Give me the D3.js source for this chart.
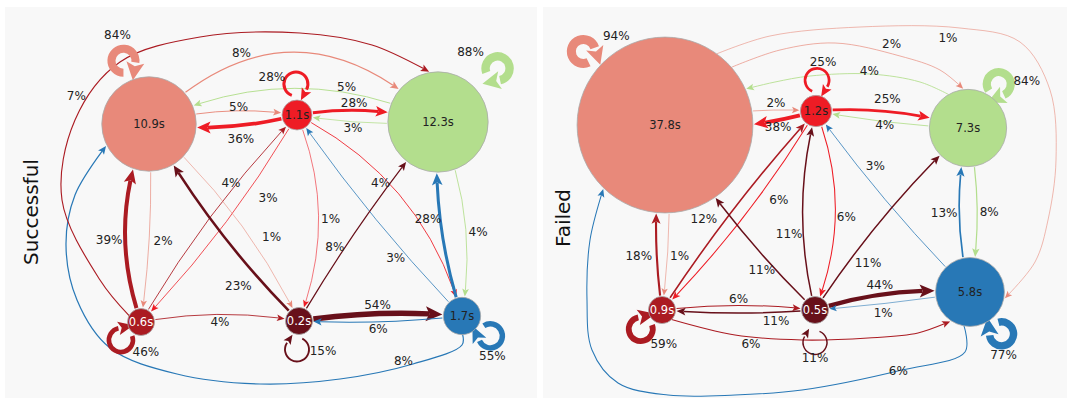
<!DOCTYPE html>
<html><head><meta charset="utf-8">
<script src="https://cdn.jsdelivr.net/npm/d3@7"></script>
<style>
body{margin:0;background:#fff}
svg{display:block}
text{font-family:"DejaVu Sans",Verdana,sans-serif}
</style>
</head><body>
<svg id="chart" width="1067" height="401"></svg>
<script>
// ---------------- data ----------------
const panelTitles = ["Successful", "Failed"];
const stateColors = ["#e8897a", "#ee1c25", "#b3de8d", "#ab1b22", "#68101a", "#2878b6"];
const stateTextColors = ["#222", "#222", "#222", "#fff", "#fff", "#222"];
const successTimes = [10.9, 1.1, 12.3, 0.6, 0.2, 1.7];
const failedTimes = [37.8, 1.2, 7.3, 0.9, 0.5, 5.8];
const successSelf = [84, 28, 88, 46, 15, 55];
const failedSelf = [94, 25, 84, 59, 11, 77];
// [from, to, percent]
const successEdges = [
  [0,1,5],[1,0,36],[1,2,28],[2,1,3],[0,2,8],[2,0,5],[0,3,2],[3,0,39],[3,1,4],[1,3,3],
  [0,4,1],[1,4,1],[1,5,4],[2,5,4],[5,2,28],[5,1,3],[4,2,8],[4,0,23],[4,5,54],[5,4,6],
  [3,4,4],[5,0,8],[3,2,7]
];
const failedEdges = [
  [0,1,2],[1,0,38],[1,2,25],[2,1,4],[0,2,2],[2,0,4],[0,5,1],[2,5,8],[5,2,13],[5,1,3],
  [3,0,18],[0,3,1],[3,1,12],[1,3,6],[1,4,6],[4,1,11],[4,0,11],[4,2,11],[3,4,6],[4,3,11],
  [4,5,44],[5,4,1],[3,5,6],[5,0,6]
];

// ---------------- layout (positions / routing, panel-local units) ----------------
const layouts = [
  {
    x0: 5, w: 532, titleX: 38, titleY: 212,
    pos: [[144,117],[292,108],[433,115],[136,315],[294,314],[457,309]],
    loops: [
      {a:-112, e:21, lx:-6, ly:-26}, {a:-92, e:16, lx:-24, ly:-7}, {a:-42, e:30, lx:-27, ly:-17},
      {a:138, e:13.5, lx:25, ly:12}, {a:94, e:15, lx:26, ly:1}, {a:35, e:16, lx:2, ly:20}
    ],
    route: {
      "0-1":{s:.055,t:.5,d:4}, "1-0":{s:.05,t:.5,d:13}, "1-2":{s:.055,t:.55,d:8}, "2-1":{s:.03,t:.45,d:6},
      "0-2":{s:.245,t:.29,d:8}, "2-0":{s:-.12,t:.23,d:-6}, "0-3":{s:.025,t:.5,d:14}, "3-0":{s:.1,t:.5,d:16},
      "3-1":{s:.03,t:.66,d:5}, "1-3":{s:.03,t:.3,d:20}, "0-4":{s:.05,t:.62,d:18}, "1-4":{s:.1,t:.5,d:12},
      "1-5":{s:.11,t:.4,d:-6}, "2-5":{s:.075,t:.5,d:12}, "5-2":{s:.05,t:.65,d:12}, "5-1":{s:.02,t:.3,d:10},
      "4-2":{s:.02,t:.38,d:9}, "4-0":{s:.035,t:.28,d:20}, "4-5":{s:.03,t:.5,d:9}, "5-4":{s:.02,t:.5,d:7},
      "3-4":{s:.045,t:.5,d:-7},
      "5-0":{out:88, inA:153, via:[[457,338],[408,357],[335,372],[255,377],[172,367],[105,341],[72,293],[61,238],[70,188]], t:.12, d:-6},
      "3-2":{out:-152, inA:-100, via:[[95,273],[57,193],[70,113],[115,55],[195,30],[295,26],[367,38]], t:.39, d:10}
    }
  },
  {
    x0: 543, w: 524, titleX: 570, titleY: 218,
    pos: [[122,118],[273,104],[425,121],[119,303],[272,303],[427,285]],
    loops: [
      {a:-138, e:22, lx:33, ly:-16}, {a:-88, e:15, lx:6, ly:-19}, {a:-55, e:15, lx:28, ly:-3},
      {a:138, e:15, lx:23, ly:15}, {a:90, e:19, lx:0, ly:15}, {a:53, e:18, lx:2, ly:21}
    ],
    route: {
      "0-1":{s:.04,t:.5,d:7}, "1-0":{s:.05,t:.5,d:6}, "1-2":{s:.05,t:.55,d:12}, "2-1":{s:.02,t:.45,d:3},
      "0-2":{out:-41, inA:-97, via:[[237,43],[292,36],[357,49],[397,63]], t:.66, d:10},
      "2-0":{out:-120, inA:-24, via:[[377,75],[327,67],[267,69],[232,75]], t:.4, d:-3},
      "0-5":{out:-54, inA:10, via:[[227,29],[317,20],[417,21],[477,35],[507,83],[513,153],[505,213],[492,255]], t:.4, d:-11},
      "2-5":{s:.05,t:.5,d:12}, "5-2":{s:.06,t:.5,d:15}, "5-1":{s:.02,t:.66,d:-14},
      "3-0":{s:.04,t:.5,d:18}, "0-3":{s:.03,t:.5,d:12}, "3-1":{s:.02,t:.38,d:18}, "1-3":{s:.03,t:.35,d:18},
      "1-4":{s:.1,t:.53,d:11}, "4-1":{s:.065,t:.375,d:14}, "4-0":{s:.03,t:.38,d:10}, "4-2":{s:.03,t:.3,d:-16},
      "3-4":{s:.03,t:.5,d:7}, "4-3":{s:.02,t:.2,d:8}, "4-5":{s:.05,t:.5,d:10}, "5-4":{s:.01,t:.5,d:9},
      "3-5":{out:45, inA:124, via:[[192,328],[259,333],[325,331],[375,326]], t:.29, d:-7},
      "5-0":{out:100, inA:134, via:[[422,345],[359,363],[259,383],[192,388],[125,388],[75,376],[49,343],[44,293],[47,233]], t:.165, d:0}
    }
  }
];

const panelData = [
  {title: panelTitles[0], times: successTimes, self: successSelf, edges: successEdges},
  {title: panelTitles[1], times: failedTimes, self: failedSelf, edges: failedEdges}
];

// ---------------- drawing ----------------
const svg = d3.select("#chart");
const rScale = d3.scaleSqrt().domain([0, 40]).range([0, 14.3 * Math.sqrt(40)]);
const radius = t => Math.max(13.5, rScale(t));
const wScale = d3.scaleLinear().domain([0, 100]).range([0.5, 9.5]);
const yScale = d3.scaleLinear().domain([0, 391]).range([7, 398]);
const rad = a => a * Math.PI / 180;

function arrowHead(g, tip, dir, al, hw, color) {
  const bx = tip.x - dir[0] * al, by = tip.y - dir[1] * al;
  const px = -dir[1], py = dir[0];
  const nx = bx + dir[0] * al * 0.22, ny = by + dir[1] * al * 0.22;
  g.append("path")
    .attr("d", `M${tip.x},${tip.y}L${bx + px * hw},${by + py * hw}L${nx},${ny}L${bx - px * hw},${by - py * hw}Z`)
    .attr("fill", color);
}

panelData.forEach((P, pi) => {
  const L = layouts[pi];
  const xs = d3.scaleLinear().domain([0, L.w]).range([L.x0, L.x0 + L.w]);
  const g = svg.append("g");
  g.append("rect").attr("x", xs(0)).attr("y", yScale(0))
    .attr("width", xs(L.w) - xs(0)).attr("height", yScale(391) - yScale(0)).attr("fill", "#f8f8f8");
  g.append("text").attr("transform", `translate(${L.titleX},${L.titleY}) rotate(-90)`)
    .attr("text-anchor", "middle").attr("font-size", 20).attr("fill", "#111").text(P.title);

  const nodes = P.times.map((t, i) => ({
    i, t, x: xs(L.pos[i][0]), y: yScale(L.pos[i][1]), r: radius(t), color: stateColors[i]
  }));

  const edgeG = g.append("g"), loopG = g.append("g"), nodeG = g.append("g"), labG = g.append("g");
  const labels = [];

  P.edges.forEach(([f, to, p]) => {
    const rt = L.route[f + "-" + to];
    const S = nodes[f], T = nodes[to];
    let d;
    if (rt.via) {
      const pts = [[S.x + S.r * Math.cos(rad(rt.out)), S.y + S.r * Math.sin(rad(rt.out))]]
        .concat(rt.via.map(v => [xs(v[0]), yScale(v[1])]))
        .concat([[T.x + (T.r + 1) * Math.cos(rad(rt.inA)), T.y + (T.r + 1) * Math.sin(rad(rt.inA))]]);
      d = d3.line().curve(d3.curveCatmullRom.alpha(0.5))(pts);
    } else {
      const dx = T.x - S.x, dy = T.y - S.y, ch = Math.hypot(dx, dy);
      const nx = dy / ch, ny = -dx / ch;
      const C = [(S.x + T.x) / 2 + nx * 2 * rt.s * ch, (S.y + T.y) / 2 + ny * 2 * rt.s * ch];
      const B = u => [(1-u)*(1-u)*S.x + 2*u*(1-u)*C[0] + u*u*T.x, (1-u)*(1-u)*S.y + 2*u*(1-u)*C[1] + u*u*T.y];
      let t0 = 0, t1 = 1;
      while (t0 < 1 && Math.hypot(B(t0)[0] - S.x, B(t0)[1] - S.y) < S.r + 1) t0 += 0.0005;
      while (t1 > 0 && Math.hypot(B(t1)[0] - T.x, B(t1)[1] - T.y) < T.r + 1) t1 -= 0.0005;
      const P0 = B(t0), P2 = B(t1);
      const Q = [
        (1-t0)*(1-t1)*S.x + ((1-t0)*t1 + t0*(1-t1))*C[0] + t0*t1*T.x,
        (1-t0)*(1-t1)*S.y + ((1-t0)*t1 + t0*(1-t1))*C[1] + t0*t1*T.y
      ];
      d = `M${P0[0]},${P0[1]}Q${Q[0]},${Q[1]} ${P2[0]},${P2[1]}`;
    }
    const w = wScale(p);
    const path = edgeG.append("path").attr("d", d).attr("fill", "none")
      .attr("stroke", S.color).attr("stroke-width", w);
    const el = path.node(), len = el.getTotalLength();
    const al = Math.min(18, 6 + 2 * w), hw = Math.min(9, 2.6 + 0.9 * w);
    path.attr("stroke-dasharray", `${Math.max(0, len - al * 0.8)} ${len + 20}`);
    const tip = el.getPointAtLength(len), back = el.getPointAtLength(Math.max(0, len - al));
    const dl = Math.hypot(tip.x - back.x, tip.y - back.y) || 1;
    arrowHead(edgeG, tip, [(tip.x - back.x) / dl, (tip.y - back.y) / dl], al, hw, S.color);
    // label
    const m = el.getPointAtLength(rt.t * len);
    const a1 = el.getPointAtLength(Math.min(len, rt.t * len + 2)), a0 = el.getPointAtLength(Math.max(0, rt.t * len - 2));
    const tl = Math.hypot(a1.x - a0.x, a1.y - a0.y) || 1;
    const tx = (a1.x - a0.x) / tl, ty = (a1.y - a0.y) / tl;
    labels.push({x: m.x + ty * rt.d, y: m.y - tx * rt.d, text: p + "%"});
  });

  // self loops
  nodes.forEach((n, i) => {
    const lp = L.loops[i], p = P.self[i];
    const R = 12, dist = n.r + lp.e;
    const cx = n.x + dist * Math.cos(rad(lp.a)), cy = n.y + dist * Math.sin(rad(lp.a));
    const tb = lp.a + 180, sA = rad(tb + 22), eA = rad(tb + 300);
    const sx = cx + R * Math.cos(sA), sy = cy + R * Math.sin(sA);
    const ex = cx + R * Math.cos(eA), ey = cy + R * Math.sin(eA);
    const w = wScale(p);
    loopG.append("path").attr("d", `M${sx},${sy}A${R},${R} 0 1 1 ${ex},${ey}`)
      .attr("fill", "none").attr("stroke", n.color).attr("stroke-width", w);
    const dir = [Math.cos(eA + Math.PI / 2), Math.sin(eA + Math.PI / 2)];
    const al = Math.min(18, 6 + 2 * w), hw = Math.min(9, 2.6 + 0.9 * w);
    arrowHead(loopG, {x: ex + dir[0] * al, y: ey + dir[1] * al}, dir, al, hw, n.color);
    labels.push({x: cx + lp.lx, y: cy + lp.ly, text: p + "%"});
  });

  nodeG.selectAll("circle").data(nodes).join("circle")
    .attr("cx", d => d.x).attr("cy", d => d.y).attr("r", d => d.r)
    .attr("fill", d => d.color).attr("stroke", "#aaa").attr("stroke-width", 0.8);
  nodeG.selectAll("text").data(nodes).join("text")
    .attr("x", d => d.x).attr("y", d => d.y).attr("dy", "0.35em")
    .attr("text-anchor", "middle").attr("font-size", 11.5)
    .attr("fill", d => stateTextColors[d.i]).text(d => d.t.toFixed(1) + "s");

  labG.selectAll("text").data(labels).join("text")
    .attr("x", d => d.x).attr("y", d => d.y).attr("dy", "0.35em")
    .attr("text-anchor", "middle").attr("font-size", 12).attr("fill", "#222").text(d => d.text);
});
</script>
</body></html>
